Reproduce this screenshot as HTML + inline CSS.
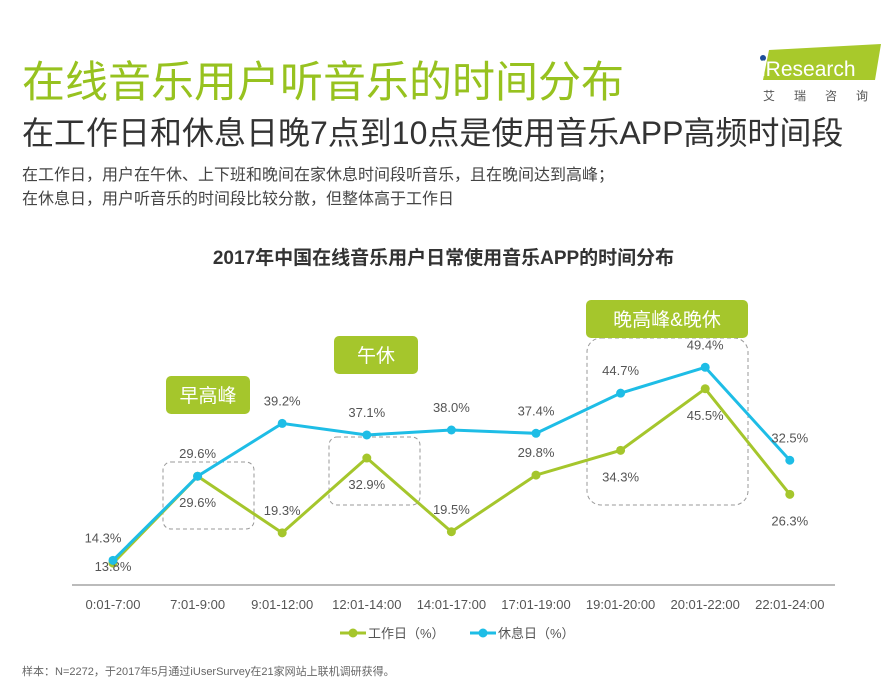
<!DOCTYPE html>
<html><head><meta charset="utf-8">
<style>
body{margin:0;width:887px;height:690px;background:#fff;position:relative;overflow:hidden;font-family:"Liberation Sans","Noto Sans CJK SC",sans-serif;}
.abs{position:absolute;white-space:nowrap;}
</style></head><body>
<div class="abs" style="left:22px;top:48px;font-size:43px;color:#97c21f;">在线音乐用户听音乐的时间分布</div>
<div class="abs" style="left:22px;top:108px;font-size:32px;color:#333;">在工作日和休息日晚7点到10点是使用音乐APP高频时间段</div>
<div class="abs" style="left:22px;top:161px;font-size:16px;color:#444;">在工作日，用户在午休、上下班和晚间在家休息时间段听音乐，且在晚间达到高峰；</div>
<div class="abs" style="left:22px;top:185px;font-size:16px;color:#444;">在休息日，用户听音乐的时间段比较分散，但整体高于工作日</div>
<div class="abs" style="left:755px;top:40px;width:132px;height:64px;">
<svg width="132" height="64"><polygon points="14,10 126,4 120,40 8,40" fill="#a8c92b"/><circle cx="8" cy="18" r="3" fill="#1e4e9a"/>
<text x="6" y="36" font-size="21" fill="#fff" font-family="Liberation Sans">iResearch</text>
<text x="8" y="60" font-size="12" fill="#555" letter-spacing="19">艾瑞咨询</text></svg></div>
<div class="abs" style="left:0;width:887px;text-align:center;top:243px;font-size:19px;font-weight:bold;color:#333;">2017年中国在线音乐用户日常使用音乐APP的时间分布</div>
<svg id="chart" class="abs" style="left:0;top:0" width="887" height="690"></svg>
<div class="abs" style="left:22px;top:663px;font-size:11px;color:#666;">样本：N=2272，于2017年5月通过iUserSurvey在21家网站上联机调研获得。</div>
<script>
const categories=["0:01-7:00","7:01-9:00","9:01-12:00","12:01-14:00","14:01-17:00","17:01-19:00","19:01-20:00","20:01-22:00","22:01-24:00"];
const workday=[13.8,29.6,19.3,32.9,19.5,29.8,34.3,45.5,26.3];
const restday=[14.3,29.6,39.2,37.1,38.0,37.4,44.7,49.4,32.5];
const workLabelSide=["below","below","above","below","above","above","below","below","below"];
const restLabelSide=["above","above","above","above","above","above","above","above","above"];
const NS="http://www.w3.org/2000/svg";
const svg=document.getElementById('chart');
const x=i=>113+i*84.6;
const y=v=>639-5.5*v;
function el(t,a,p){const e=document.createElementNS(NS,t);for(const k in a)e.setAttribute(k,a[k]);(p||svg).appendChild(e);return e;}
const G="#a5c62c",B="#1ebde6";
[[163,462,91,67],[329,437,91,68],[587,338,161,167]].forEach((r,i)=>{
 const e=el('rect',{x:r[0],y:r[1],width:r[2],height:r[3],rx:i==2?14:8,fill:'none',stroke:'#999','stroke-dasharray':'4,3'});
 
 
});
[[166,376,84,38,"早高峰"],[334,336,84,38,"午休"],[586,300,162,38,"晚高峰&晚休"]].forEach(r=>{
 const g=el('g',{});
 
 
 el('rect',{x:r[0],y:r[1],width:r[2],height:r[3],rx:5,fill:'#a5c62c'},g);
 const t=el('text',{x:r[0]+r[2]/2,y:r[1]+26,'text-anchor':'middle','font-size':19,fill:'#fff'},g);t.textContent=r[4];
});
const ax=el('line',{x1:72,x2:835,y1:585,y2:585,stroke:'#777','stroke-width':1});


categories.forEach((c,i)=>{const t=el('text',{x:x(i),y:609,'text-anchor':'middle','font-size':13,fill:'#555'});t.textContent=c;
 
 });
function series(vals,col,name,sides){
 const p=el('polyline',{points:vals.map((v,i)=>x(i)+','+y(v)).join(' '),fill:'none',stroke:col,'stroke-width':3});
 
 
 vals.forEach((v,i)=>{const c=el('circle',{cx:x(i),cy:y(v),r:4.5,fill:col});
  
  
  const dy=sides[i]=="above"?-18:31;
  const t=el('text',{x:x(i)+(i==0&&name=="restday"?-10:0),y:y(v)+(i==0&&name=="workday"?8:dy),'text-anchor':'middle','font-size':13,fill:'#555'});t.textContent=v.toFixed(1)+'%';
  
  });
}
series(workday,G,"workday",workLabelSide);
series(restday,B,"restday",restLabelSide);
[[340,G,"工作日（%）"],[470,B,"休息日（%）"]].forEach(l=>{
 const g=el('g',{});
 
 
 el('line',{x1:l[0],x2:l[0]+26,y1:633,y2:633,stroke:l[1],'stroke-width':3},g);
 el('circle',{cx:l[0]+13,cy:633,r:4.5,fill:l[1]},g);
 const t=el('text',{x:l[0]+28,y:638,'font-size':13,fill:'#555'},g);t.textContent=l[2];
});
</script>
</body></html>
